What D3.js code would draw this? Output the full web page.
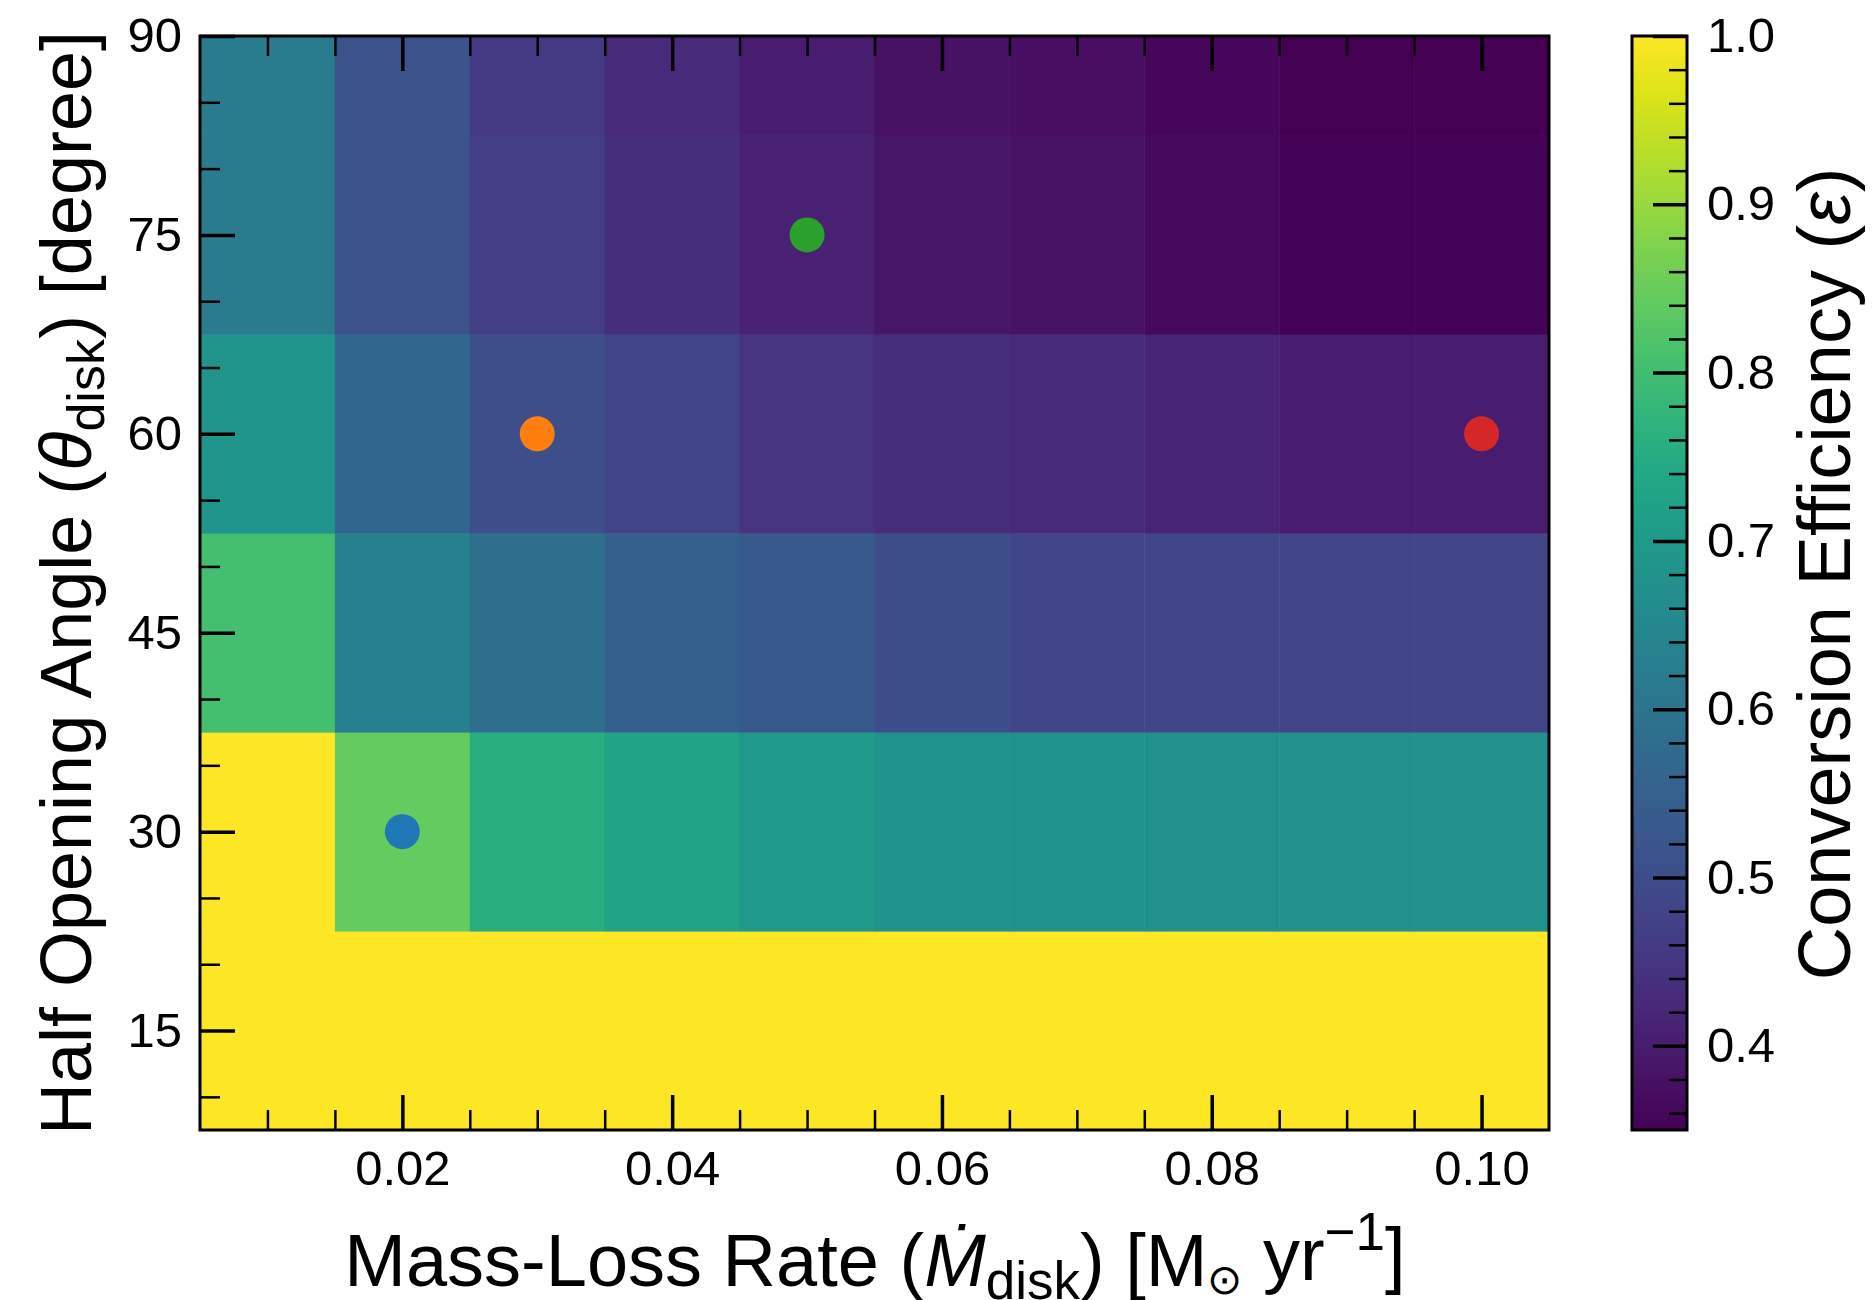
<!DOCTYPE html>
<html>
<head>
<meta charset="utf-8">
<script src="https://cdn.jsdelivr.net/npm/d3@7"></script>
<style>
  body { margin: 0; background: #fff; }
  text { font-family: "Liberation Sans", Arial, sans-serif; fill: #000; }
</style>
</head>
<body>
<svg id="chart" width="1875" height="1300"></svg>
<script>
// grid of the model runs
const massLoss = [0.01, 0.02, 0.03, 0.04, 0.05, 0.06, 0.07, 0.08, 0.09, 0.10];
const angles = [15, 30, 45, 60, 75, 90];

// conversion efficiency per row (one row per angle)
const eff15 = [1.0, 1.0, 1.0, 1.0, 1.0, 1.0, 1.0, 1.0, 1.0, 1.0];
const eff30 = [1.0, 0.844, 0.76, 0.727, 0.70, 0.68, 0.68, 0.677, 0.675, 0.675];
const eff45 = [0.805, 0.63, 0.584, 0.545, 0.53, 0.50, 0.487, 0.485, 0.48, 0.48];
const eff60 = [0.688, 0.565, 0.506, 0.48, 0.448, 0.435, 0.428, 0.415, 0.40, 0.40];
const eff75 = [0.62, 0.515, 0.468, 0.435, 0.41, 0.39, 0.382, 0.365, 0.355, 0.354];
const eff90 = [0.621, 0.513, 0.46, 0.428, 0.403, 0.38, 0.374, 0.362, 0.351, 0.35];
const effRows = [eff15, eff30, eff45, eff60, eff75, eff90];

// highlighted models
const pointX = [0.02, 0.03, 0.05, 0.10];
const pointY = [30, 60, 75, 60];
const pointColors = ["#1f77b4", "#ff7f0e", "#2ca02c", "#d62728"];

const xTicks = [0.02, 0.04, 0.06, 0.08, 0.10];
const yTicks = [15, 30, 45, 60, 75, 90];
const cbTicks = [0.4, 0.5, 0.6, 0.7, 0.8, 0.9, 1.0];

const svg = d3.select("#chart");
const plot = { left: 200, right: 1549, top: 36, bottom: 1130 };
const cb = { left: 1632, right: 1687 };

const x = d3.scaleLinear().domain([0.005, 0.105]).range([plot.left, plot.right]);
const y = d3.scaleLinear().domain([7.5, 90]).range([plot.bottom, plot.top]);
const color = d3.scaleSequential(d3.interpolateViridis).domain([0.35, 1.0]);

svg.append("clipPath").attr("id", "clip")
  .append("rect")
  .attr("x", plot.left).attr("y", plot.top)
  .attr("width", plot.right - plot.left).attr("height", plot.bottom - plot.top);

// cells
const cells = [];
angles.forEach((a, i) => {
  massLoss.forEach((m, j) => cells.push({ m: m, a: a, v: effRows[i][j] }));
});

svg.append("g").attr("clip-path", "url(#clip)")
  .selectAll("rect")
  .data(cells)
  .join("rect")
  .attr("x", d => x(d.m - 0.005))
  .attr("y", d => y(d.a + 7.5))
  .attr("width", d => x(d.m + 0.005) - x(d.m - 0.005) + 0.5)
  .attr("height", d => y(d.a - 7.5) - y(d.a + 7.5) + 0.5)
  .attr("fill", d => color(d.v));

// points
svg.append("g")
  .selectAll("circle")
  .data(pointX)
  .join("circle")
  .attr("cx", d => x(d))
  .attr("cy", (d, i) => y(pointY[i]))
  .attr("r", 17.5)
  .attr("fill", (d, i) => pointColors[i]);

// minor tick positions
const xMinor = d3.range(2, 21).map(k => k * 0.005).filter(v => Math.round(v * 1000) % 20 !== 0);
const yMinor = d3.range(2, 19).map(k => k * 5).filter(v => v % 15 !== 0);
const cbMinor = d3.range(18, 50).map(k => k * 0.02).filter(v => Math.round(v * 100) % 10 !== 0);

function styleAxis(g, width, fontSize) {
  g.select(".domain").remove();
  g.selectAll(".tick line").attr("stroke", "#000").attr("stroke-width", width);
  g.selectAll(".tick text").attr("font-size", fontSize)
    .attr("font-family", '"Liberation Sans", Arial, sans-serif').attr("fill", "#000");
}

// bottom
svg.append("g").attr("transform", `translate(0,${plot.bottom})`)
  .call(d3.axisBottom(x).tickValues(xTicks).tickSize(-35).tickPadding(20).tickFormat(d3.format(".2f")))
  .call(g => styleAxis(g, 3.5, 49));
svg.append("g").attr("transform", `translate(0,${plot.bottom})`)
  .call(d3.axisBottom(x).tickValues(xMinor).tickSize(-20).tickFormat(""))
  .call(g => styleAxis(g, 2.5, 0));
// top
svg.append("g").attr("transform", `translate(0,${plot.top})`)
  .call(d3.axisTop(x).tickValues(xTicks).tickSize(-35).tickFormat(""))
  .call(g => styleAxis(g, 3.5, 0));
svg.append("g").attr("transform", `translate(0,${plot.top})`)
  .call(d3.axisTop(x).tickValues(xMinor).tickSize(-20).tickFormat(""))
  .call(g => styleAxis(g, 2.5, 0));
// left
svg.append("g").attr("transform", `translate(${plot.left},0)`)
  .call(d3.axisLeft(y).tickValues(yTicks).tickSize(-35).tickPadding(18).tickFormat(d => d))
  .call(g => styleAxis(g, 3.5, 49));
svg.append("g").attr("transform", `translate(${plot.left},0)`)
  .call(d3.axisLeft(y).tickValues(yMinor).tickSize(-20).tickFormat(""))
  .call(g => styleAxis(g, 2.5, 0));

// frame
svg.append("rect")
  .attr("x", plot.left).attr("y", plot.top)
  .attr("width", plot.right - plot.left).attr("height", plot.bottom - plot.top)
  .attr("fill", "none").attr("stroke", "#000").attr("stroke-width", 3);

// colorbar
const cbScale = d3.scaleLinear().domain([0.35, 1.0]).range([plot.bottom, plot.top]);
const grad = svg.append("defs").append("linearGradient")
  .attr("id", "viridis").attr("x1", 0).attr("y1", 1).attr("x2", 0).attr("y2", 0);
grad.selectAll("stop")
  .data(d3.range(0, 1.0001, 0.05))
  .join("stop")
  .attr("offset", d => d)
  .attr("stop-color", d => d3.interpolateViridis(d));

svg.append("rect")
  .attr("x", cb.left).attr("y", plot.top)
  .attr("width", cb.right - cb.left).attr("height", plot.bottom - plot.top)
  .attr("fill", "url(#viridis)");

svg.append("g").attr("transform", `translate(${cb.right},0)`)
  .call(d3.axisRight(cbScale).tickValues(cbTicks).tickSize(-34).tickPadding(20).tickFormat(d3.format(".1f")))
  .call(g => styleAxis(g, 3.5, 49));
svg.append("g").attr("transform", `translate(${cb.right},0)`)
  .call(d3.axisRight(cbScale).tickValues(cbMinor).tickSize(-18).tickFormat(""))
  .call(g => styleAxis(g, 2.5, 0));

svg.append("rect")
  .attr("x", cb.left).attr("y", plot.top)
  .attr("width", cb.right - cb.left).attr("height", plot.bottom - plot.top)
  .attr("fill", "none").attr("stroke", "#000").attr("stroke-width", 3);

// axis titles
const yTitle = svg.append("text")
  .attr("transform", `translate(91,583) rotate(-90)`)
  .attr("text-anchor", "middle").attr("font-size", 72);
yTitle.append("tspan").text("Half Opening Angle (");
yTitle.append("tspan").attr("font-style", "italic").text("θ");
yTitle.append("tspan").attr("font-size", 52).attr("dy", "0.25em").text("disk");
yTitle.append("tspan").attr("dy", "-0.18em").text(") [degree]");

const xTitle = svg.append("text")
  .attr("x", 875).attr("y", 1286)
  .attr("text-anchor", "middle").attr("font-size", 74);
xTitle.append("tspan").text("Mass-Loss Rate (");
xTitle.append("tspan").attr("font-style", "italic").text("Ṁ");
xTitle.append("tspan").attr("font-size", 53).attr("dy", "0.25em").text("disk");
xTitle.append("tspan").attr("dy", "-0.18em").text(") [M");
xTitle.append("tspan").attr("font-size", 42).attr("dy", "0.2em").text("⊙");
xTitle.append("tspan").attr("dy", "-0.2em").text(" yr");
xTitle.append("tspan").attr("font-size", 53).attr("dy", "-0.55em").text("−1");
xTitle.append("tspan").attr("dy", "0.4em").text("]");

const cbTitle = svg.append("text")
  .attr("transform", `translate(1850,574) rotate(-90)`)
  .attr("text-anchor", "middle").attr("font-size", 74);
cbTitle.append("tspan").text("Conversion Efficiency (");
cbTitle.append("tspan").attr("font-style", "italic").text("ε");
cbTitle.append("tspan").text(")");
</script>
</body>
</html>
